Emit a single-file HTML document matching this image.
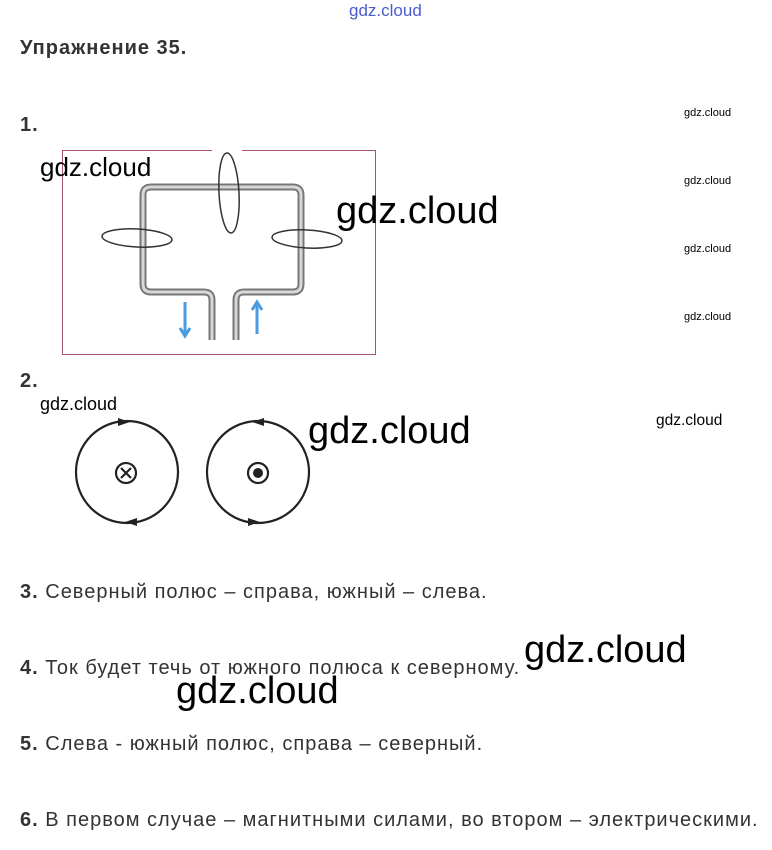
<!DOCTYPE html>
<html><head><meta charset="utf-8"><style>
body{margin:0;width:772px;height:850px;background:#fff;position:relative;font-family:"Liberation Sans",Arial,sans-serif;color:#333;overflow:hidden}
.t{position:absolute;font-size:20px;letter-spacing:1px;white-space:nowrap}
.w{position:absolute;color:#000;white-space:nowrap;font-family:"Liberation Sans",sans-serif}
.s{font-size:11px}.b{font-size:38px;top:0}
</style></head><body>
<div class="w" style="left:349px;top:1px;font-size:17px;color:#4a5ad0">gdz.cloud</div>
<div class="t" style="left:20px;top:37px;font-weight:bold">Упражнение 35.</div>
<div class="t" style="left:20px;top:114px;font-weight:bold">1.</div>
<div class="t" style="left:20px;top:370px;font-weight:bold">2.</div>
<svg style="position:absolute;left:0;top:0" width="772" height="850">
<rect x="62.5" y="150.5" width="313" height="204" fill="none" stroke="#a8546a" stroke-width="1"/>
<rect x="212" y="146" width="30" height="8" fill="#fff"/>
<path d="M212 340 V300 Q212 292 204 292 H151 Q143 292 143 284 V195 Q143 187 151 187 H293 Q301 187 301 195 V284 Q301 292 293 292 H244 Q236 292 236 300 V340" fill="none" stroke="#777" stroke-width="7"/>
<path d="M212 340 V300 Q212 292 204 292 H151 Q143 292 143 284 V195 Q143 187 151 187 H293 Q301 187 301 195 V284 Q301 292 293 292 H244 Q236 292 236 300 V340" fill="none" stroke="#d8d8d8" stroke-width="3"/>
<ellipse cx="229" cy="193" rx="10" ry="40" fill="none" stroke="#333" stroke-width="1.5" transform="rotate(-3 229 193)"/>
<ellipse cx="137" cy="238" rx="35" ry="9" fill="none" stroke="#333" stroke-width="1.5" transform="rotate(3 137 238)"/>
<ellipse cx="307" cy="239" rx="35" ry="9" fill="none" stroke="#333" stroke-width="1.5" transform="rotate(3 307 239)"/>
<path d="M185 302 V334 M180 328 L185 336 L190 328" stroke="#4a9be0" stroke-width="3" fill="none"/>
<path d="M257 334 V304 M252 310 L257 302 L262 310" stroke="#4a9be0" stroke-width="3" fill="none"/>
<circle cx="127" cy="472" r="51" fill="none" stroke="#222" stroke-width="2.2"/>
<circle cx="126" cy="473" r="10" fill="none" stroke="#222" stroke-width="2.2"/>
<path d="M121 468 L131 478 M131 468 L121 478" stroke="#222" stroke-width="2.2"/>
<path d="M118 418 L130 422 L118 426Z M137 518 L125 522 L137 526Z" fill="#222"/>
<circle cx="258" cy="472" r="51" fill="none" stroke="#222" stroke-width="2.2"/>
<circle cx="258" cy="473" r="10" fill="none" stroke="#222" stroke-width="2.2"/>
<circle cx="258" cy="473" r="5" fill="#222"/>
<path d="M264 418 L252 422 L264 426Z M248 518 L260 522 L248 526Z" fill="#222"/>
</svg>
<div class="w s" style="left:684px;top:107px">gdz.cloud</div>
<div class="w s" style="left:684px;top:175px">gdz.cloud</div>
<div class="w s" style="left:684px;top:243px">gdz.cloud</div>
<div class="w s" style="left:684px;top:311px">gdz.cloud</div>
<div class="w" style="left:40px;top:152px;font-size:26px">gdz.cloud</div>
<div class="w b" style="left:336px;top:190px">gdz.cloud</div>
<div class="w" style="left:40px;top:394px;font-size:18px">gdz.cloud</div>
<div class="w b" style="left:308px;top:410px">gdz.cloud</div>
<div class="w" style="left:656px;top:412px;font-size:15.5px">gdz.cloud</div>
<div class="t" style="left:20px;top:581px"><b>3.</b> Северный полюс – справа, южный – слева.</div>
<div class="t" style="left:20px;top:657px"><b>4.</b> Ток будет течь от южного полюса к северному.</div>
<div class="w b" style="left:524px;top:629px">gdz.cloud</div>
<div class="w b" style="left:176px;top:670px">gdz.cloud</div>
<div class="t" style="left:20px;top:733px"><b>5.</b> Слева - южный полюс, справа – северный.</div>
<div class="t" style="left:20px;top:809px"><b>6.</b> В первом случае – магнитными силами, во втором – электрическими.</div>
</body></html>
